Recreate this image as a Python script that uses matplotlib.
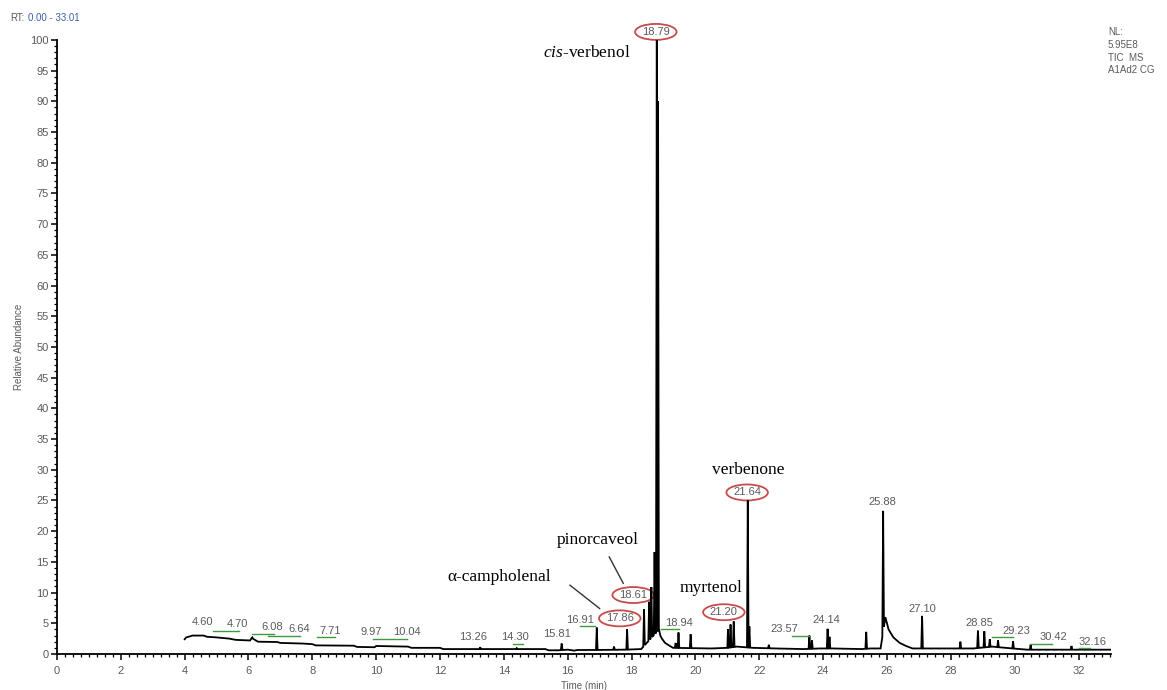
import numpy as np
import matplotlib
matplotlib.use("Agg")
import matplotlib.pyplot as plt
from matplotlib.patches import Ellipse

plt.rcParams['mathtext.fontset'] = 'custom'
plt.rcParams['mathtext.rm'] = 'Liberation Serif'
plt.rcParams['mathtext.it'] = 'Liberation Serif:italic'

# ---------------- data ----------------
baseline_time = [4.0, 4.05, 4.25, 4.6, 4.7, 5.0, 5.4, 5.6, 6.05, 6.1, 6.2, 6.3, 6.9, 7.0,
                 7.7, 8.0, 8.1, 9.3, 9.4, 9.95, 10.0, 11.0, 11.1, 12.0, 12.1, 15.3, 15.4,
                 15.7, 16.0, 16.2, 16.3, 16.85, 17.8, 18.3, 18.86, 18.9, 18.95, 19.05, 19.2,
                 19.3, 20.5, 21.0, 21.3, 21.8, 22.5, 23.4, 23.9, 24.3, 25.2, 25.5, 25.8,
                 25.95, 26.05, 26.2, 26.4, 26.6, 26.8, 27.3, 28.7, 29.3, 29.7, 30.4, 32.0, 33.0]
baseline_abund = [2.4, 2.7, 3.0, 3.0, 2.8, 2.7, 2.5, 2.3, 2.2, 2.6, 2.3, 2.0, 1.95, 1.8,
                  1.7, 1.6, 1.4, 1.35, 1.15, 1.1, 1.3, 1.2, 1.0, 1.0, 0.8, 0.8, 0.6,
                  0.6, 0.7, 0.55, 0.65, 0.65, 0.7, 0.8, 4.0, 3.0, 2.5, 1.8, 1.3,
                  1.0, 0.9, 1.0, 1.2, 1.0, 0.9, 0.8, 0.9, 0.9, 0.8, 0.9, 0.9,
                  6.0, 4.0, 2.7, 1.8, 1.3, 0.9, 0.9, 0.9, 1.2, 1.0, 0.7, 0.7, 0.7]

peak_rt = [6.12, 13.26, 14.40, 15.81, 16.91, 17.45, 17.86, 18.39, 18.55, 18.62, 18.72,
           18.79, 18.83, 19.38, 19.47, 19.85, 21.02, 21.10, 21.20, 21.64, 21.69, 22.30,
           23.57, 23.65, 24.14, 24.20, 25.35, 25.88, 27.10, 28.30, 28.85, 29.05, 29.22,
           29.48, 29.95, 30.50, 31.78]
peak_height = [2.7, 1.1, 0.95, 1.7, 4.3, 1.2, 4.0, 7.3, 8.5, 10.9, 16.6,
               100.0, 90.0, 1.8, 3.5, 3.2, 4.0, 4.8, 5.3, 25.0, 4.5, 1.5,
               3.0, 2.2, 4.1, 2.8, 3.6, 23.3, 6.2, 2.0, 3.8, 3.7, 2.4,
               2.2, 2.1, 1.5, 1.3]

# plain retention-time labels: text, x, y(bottom)
rt_labels = ["4.60", "4.70", "6.08", "6.64", "7.71", "9.97", "10.04", "13.26", "14.30",
             "15.81", "16.91", "18.94", "23.57", "24.14", "25.88", "27.10", "28.85",
             "29.23", "30.42", "32.16"]
rt_label_x = [4.55, 5.65, 6.75, 7.6, 8.55, 9.85, 10.95, 13.05, 14.35,
              15.65, 16.4, 19.5, 22.8, 24.1, 25.87, 27.1, 28.9,
              30.05, 31.2, 32.45]
rt_label_y = [4.4, 4.1, 3.6, 3.2, 3.0, 2.8, 2.7, 2.0, 2.0,
              2.4, 4.8, 4.3, 3.3, 4.7, 24.0, 6.5, 4.2,
              3.0, 1.9, 1.1]

# green integration marks: start, end, level
green_start = [4.9, 6.1, 6.6, 8.15, 9.9, 14.3, 16.4, 18.92, 23.02, 29.3, 30.48, 32.0]
green_end = [5.7, 6.8, 7.6, 8.7, 10.95, 14.6, 16.85, 19.47, 23.55, 29.95, 31.18, 32.35]
green_level = [3.8, 3.3, 2.9, 2.7, 2.4, 1.7, 4.5, 4.0, 3.0, 2.7, 1.6, 0.9]

# circled labels
circ_labels = ["18.79", "21.64", "18.61", "17.86", "21.20"]
circ_x = [18.76, 21.62, 18.05, 17.63, 20.89]
circ_y = [101.3, 26.3, 9.6, 5.8, 6.8]

# compound names
comp_names = ["$\\it{cis}$-verbenol", "verbenone", "pinorcaveol", "α-campholenal", "myrtenol"]
comp_x = [16.59, 21.65, 16.95, 13.85, 20.5]
comp_y = [97.8, 30.0, 18.6, 12.6, 10.7]

leader_x0 = [17.3, 16.07]
leader_y0 = [15.8, 11.2]
leader_x1 = [17.74, 17.0]
leader_y1 = [11.5, 7.4]

x_ticks = list(range(0, 33, 2))
y_ticks = list(range(0, 101, 5))

# ---------------- build trace ----------------
half_w = 0.025
bt = np.array(baseline_time)
bv = np.array(baseline_abund)
pts = list(zip(baseline_time, baseline_abund))
for rt, h in zip(peak_rt, peak_height):
    for t in (rt - half_w, rt + half_w):
        pts.append((t, float(np.interp(t, bt, bv))))
    pts.append((rt, h))
pts.sort(key=lambda p: p[0])
tx = [p[0] for p in pts]
ty = [p[1] for p in pts]

# ---------------- draw ----------------
fig = plt.figure(figsize=(11.67, 6.9), dpi=100)
ax = fig.add_axes([0.0488, 0.0522, 0.903, 0.890])
ax.plot(tx, ty, color='black', lw=1.3, solid_joinstyle='miter')
ax.set_xlim(0, 33.01)
ax.set_ylim(0, 100)

for s in ('top', 'right'):
    ax.spines[s].set_visible(False)
for s in ('left', 'bottom'):
    ax.spines[s].set_linewidth(1.3)

grey = '#5a5a5a'
ax.set_xticks(x_ticks)
ax.set_yticks(y_ticks)
ax.set_xticks(np.arange(0, 33.01, 0.25), minor=True)
ax.set_yticks(np.arange(0, 101, 1), minor=True)
ax.tick_params(axis='both', which='major', direction='out', length=4, width=1.1,
               labelsize=8, labelcolor=grey, pad=2)
ax.tick_params(axis='both', which='minor', direction='out', length=2.5, width=0.9)
for lab in ax.get_xticklabels() + ax.get_yticklabels():
    lab.set_fontfamily('Liberation Sans')
ax.tick_params(axis='x', pad=5)

ax.set_xlabel('Time (min)', fontsize=7, color=grey, family='Liberation Sans', labelpad=3)
ax.set_ylabel('Relative Abundance', fontsize=7, color=grey, family='Liberation Sans')
ax.yaxis.set_label_coords(-0.031, 0.5)

for txt, x, y in zip(rt_labels, rt_label_x, rt_label_y):
    ax.text(x, y, txt, fontsize=8, color=grey, family='Liberation Sans',
            ha='center', va='bottom')
for x0, x1, y in zip(green_start, green_end, green_level):
    ax.plot([x0, x1], [y, y], color='#3f9a3f', lw=1.0)

for txt, x, y in zip(circ_labels, circ_x, circ_y):
    ax.text(x, y, txt, fontsize=8, color=grey, family='Liberation Sans',
            ha='center', va='center', clip_on=False)
    ax.add_patch(Ellipse((x, y), 1.3, 2.6, fill=False, edgecolor='#c84b4b',
                         lw=1.3, clip_on=False))

for txt, x, y in zip(comp_names, comp_x, comp_y):
    ax.text(x, y, txt, fontsize=12.5, color='black', family='Liberation Serif',
            ha='center', va='center')
for x0, y0, x1, y1 in zip(leader_x0, leader_y0, leader_x1, leader_y1):
    ax.plot([x0, x1], [y0, y1], color='#333333', lw=1.0)

fig.text(10 / 1167, 1 - 18 / 690, 'RT:', fontsize=7, color=grey,
         family='Liberation Sans', va='center')
fig.text(28 / 1167, 1 - 18 / 690, '0.00 - 33.01', fontsize=7, color='#3a5ea8',
         family='Liberation Sans', va='center')
fig.text(1108 / 1167, 1 - 27 / 690, 'NL:\n5.95E8\nTIC  MS\nA1Ad2 CG', fontsize=7,
         color=grey, family='Liberation Sans', va='top', linespacing=1.35)

fig.savefig('out.png', dpi=100)
